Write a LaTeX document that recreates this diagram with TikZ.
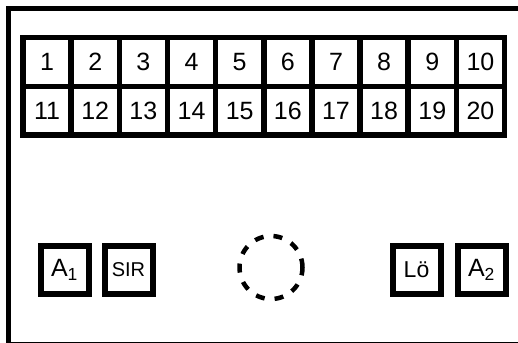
\documentclass[tikz,border=0pt]{standalone}
\usepackage{fontspec}
\setmainfont{Liberation Sans}
\usetikzlibrary{positioning}

\begin{document}
\begin{tikzpicture}[x=1pt, y=-1pt,
    cellbox/.style={draw, line width=5.5pt, minimum width=48.15pt, minimum height=48.75pt, inner sep=0pt, font=\fontsize{25}{25}\selectfont},
    keybox/.style={draw, line width=6pt, minimum width=48pt, minimum height=48pt, inner sep=0pt, font=\fontsize{25}{25}\selectfont}]

\useasboundingbox (0,0) rectangle (518,342);
\clip (0,0) rectangle (518,342);

% Outer frame (runs off the right and bottom edge)
\draw[line width=5pt] (8.5,8.5) rectangle (540,344);

% Number cells, two rows of ten
\foreach \n in {1,...,10} {
    \node[cellbox] (c\n) at ({23 + 48.15*(\n-1) + 24.075}, 62.1) {\n};
}
\foreach \n in {11,...,20} {
    \node[cellbox] (c\n) at ({23 + 48.15*(\n-11) + 24.075}, 110.85) {\n};
}

% Keys along the bottom
\node[keybox] (aone) at (64.5,270) {A\textsubscript{1}};
\node[keybox, font=\fontsize{20}{20}\selectfont] (sir) at (128.5,270) {SIR};
\node[keybox, font=\fontsize{23}{23}\selectfont] (loe) at (416.5,270) {Lö};
\node[keybox] (atwo) at (481.5,270) {A\textsubscript{2}};

% Dashed ring in the middle
\node[circle, draw, line width=4.5pt, dash pattern=on 9pt off 10pt, minimum size=63pt, inner sep=0pt] (ring) at (271,267.5) {};

\end{tikzpicture}
\end{document}
